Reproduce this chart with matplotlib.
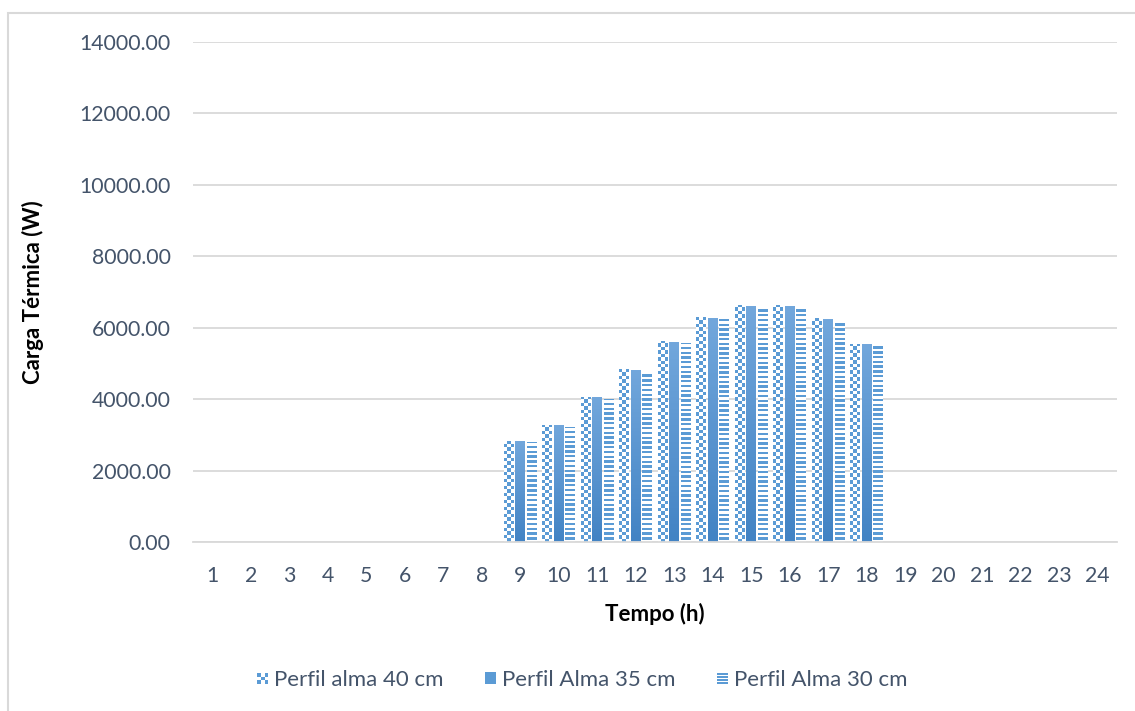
import numpy as np
import matplotlib.pyplot as plt
from matplotlib.patches import Patch, Rectangle
from matplotlib.legend_handler import HandlerBase

plt.rcParams['font.family'] = ['Lato', 'DejaVu Sans']

# dados: carga térmica por hora (W)
horas = [str(h) for h in range(1, 25)]
alma_40 = [0, 0, 0, 0, 0, 0, 0, 0, 2828, 3276, 4069, 4836, 5628, 6291, 6636, 6636,
           6263, 5544, 0, 0, 0, 0, 0, 0]
alma_35 = [0, 0, 0, 0, 0, 0, 0, 0, 2828, 3276, 4069, 4816, 5600, 6272, 6617, 6617,
           6244, 5544, 0, 0, 0, 0, 0, 0]
alma_30 = [0, 0, 0, 0, 0, 0, 0, 0, 2800, 3228, 4004, 4740, 5580, 6235, 6571, 6560,
           6170, 5516, 0, 0, 0, 0, 0, 0]
nomes = ['Perfil alma 40 cm', 'Perfil Alma 35 cm', 'Perfil Alma 30 cm']
yticks = np.arange(0, 14001, 2000)

azul = '#5b9bd5'
texto = '#44546a'
grade = '#d9d9d9'

fig = plt.figure(figsize=(11.35, 7.11), dpi=100)
ax = fig.add_axes([0.170, 0.2377, 0.814, 0.7033])

x = np.arange(len(horas))
w = 0.25
b40 = ax.bar(x - 0.3, alma_40, w, color='none', linewidth=0)
b35 = ax.bar(x, alma_35, w, color='none', linewidth=0)
b30 = ax.bar(x + 0.3, alma_30, w, color='none', linewidth=0)

cm_padrao = plt.matplotlib.colors.ListedColormap(['#ffffff', azul])
cm_grad = plt.matplotlib.colors.LinearSegmentedColormap.from_list(
    'g', ['#4283c4', '#72a7dc'])


def preencher(barras, tipo):
    # preenche cada barra com uma imagem (padrão) recortada no retângulo
    for b in barras:
        h = b.get_height()
        if h <= 0:
            continue
        x0, x1 = b.get_x(), b.get_x() + b.get_width()
        if tipo == 'xadrez':
            n = max(int(h / 95), 1)
            img = (np.indices((n, 3)).sum(axis=0) % 2).astype(float)
            cmap = cm_padrao
        elif tipo == 'listras':
            n = max(int(h / 66), 1)
            img = (np.arange(n)[:, None] % 2).astype(float) * np.ones((1, 2))
            cmap = cm_padrao
        else:
            img = np.linspace(0, 1, 100)[:, None]
            cmap = cm_grad
        im = ax.imshow(img, extent=(x0, x1, 0, h), origin='lower', cmap=cmap,
                       aspect='auto', interpolation='nearest', zorder=2)
        im.set_clip_path(b)


preencher(b40, 'xadrez')
preencher(b35, 'solido')
preencher(b30, 'listras')

ax.set_xlim(-0.5, len(horas) - 0.5)
ax.set_ylim(0, 14000)
ax.set_yticks(yticks)
ax.set_yticklabels([f'{v:.2f}' for v in yticks])
ax.set_xticks(x)
ax.set_xticklabels(horas)
ax.grid(axis='y', color=grade, linewidth=1.3)
ax.set_axisbelow(True)
for s in ['top', 'right', 'left']:
    ax.spines[s].set_visible(False)
ax.spines['bottom'].set_color(grade)
ax.spines['bottom'].set_linewidth(1.3)
ax.tick_params(length=0, labelsize=15.3, colors=texto)
ax.tick_params(axis='x', pad=17)
ax.tick_params(axis='y', pad=16)

ax.set_xlabel('Tempo (h)', fontsize=16, fontweight='bold')
ax.set_ylabel('Carga Térmica (W)', fontsize=16, fontweight='bold')
ax.xaxis.set_label_coords(0.5, -0.122)
ax.yaxis.set_label_coords(-0.161, 0.5)

# moldura do gráfico
fig.patches.append(Rectangle((0.007, -0.1), 1.1, 1.082, transform=fig.transFigure,
                             fill=False, edgecolor=grade, linewidth=1.5))


class Quadrados(HandlerBase):
    # ícone da legenda com padrão xadrez ou listrado
    def __init__(self, tipo):
        super().__init__()
        self.tipo = tipo

    def create_artists(self, legend, orig, xd, yd, width, height, fontsize, trans):
        s = min(width, height)
        x0 = xd + (width - s) / 2 - xd * 2
        y0 = -yd
        arts = []
        if self.tipo == 'xadrez':
            c = s / 3
            for i in range(3):
                for j in range(3):
                    cor = azul if (i + j) % 2 == 0 else '#ffffff'
                    arts.append(Rectangle((x0 + i * c, y0 + j * c), c, c,
                                          facecolor=cor, linewidth=0, transform=trans))
        else:
            c = s / 7
            for j in range(7):
                cor = azul if j % 2 == 0 else '#ffffff'
                arts.append(Rectangle((x0, y0 + j * c), s, c, facecolor=cor,
                                      linewidth=0, transform=trans))
        return arts


alcas = [Patch(facecolor=azul), Patch(facecolor=azul, edgecolor='none'), Patch(facecolor=azul)]
fig.legend(alcas, nomes, loc='center', bbox_to_anchor=(0.513, 0.044), ncol=3,
           frameon=False, fontsize=16, labelcolor=texto, handlelength=0.48,
           handleheight=0.48, handletextpad=0.25, columnspacing=1.9,
           handler_map={alcas[0]: Quadrados('xadrez'), alcas[2]: Quadrados('listras')})

fig.savefig('out.png', dpi=100)
